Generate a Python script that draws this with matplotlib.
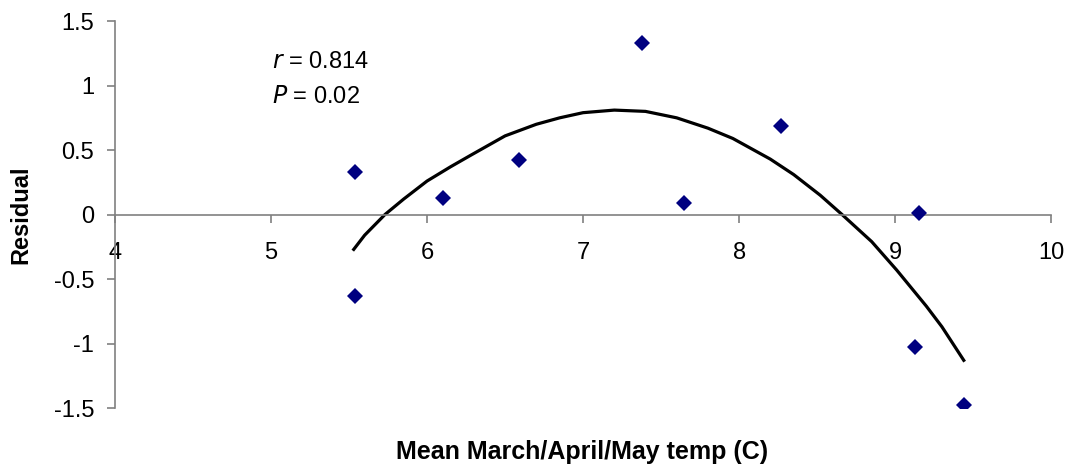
import matplotlib
matplotlib.use("Agg")
import matplotlib.pyplot as plt

plt.rcParams['font.family'] = ['Liberation Sans', 'DejaVu Sans']

# residuals vs mean spring temperature
temp = [5.54, 5.54, 6.10, 6.59, 7.38, 7.65, 8.27, 9.15, 9.13, 9.44]
resid = [0.33, -0.63, 0.13, 0.42, 1.33, 0.09, 0.69, 0.01, -1.03, -1.48]

# trend line
trend_x = [5.53, 5.6, 5.73, 5.85, 6.0, 6.15, 6.28, 6.5, 6.7, 6.85, 7.0, 7.2,
           7.4, 7.6, 7.8, 7.96, 8.2, 8.35, 8.52, 8.66, 8.85, 9.01, 9.2, 9.3, 9.44]
trend_y = [-0.27, -0.16, 0.0, 0.12, 0.26, 0.37, 0.46, 0.61, 0.70, 0.75, 0.79, 0.81,
           0.80, 0.75, 0.67, 0.59, 0.43, 0.31, 0.15, 0.0, -0.21, -0.43, -0.71, -0.87, -1.13]

xticks = [4, 5, 6, 7, 8, 9, 10]
yticks = [-1.5, -1, -0.5, 0, 0.5, 1, 1.5]
ytick_labels = ['-1.5', '-1', '-0.5', '0', '0.5', '1', '1.5']

fig = plt.figure(figsize=(10.68, 4.69), dpi=100)
ax = fig.add_axes([0.1077, 0.130, 0.8765, 0.825])

ax.plot(trend_x, trend_y, color='black', lw=2.3, zorder=2)
ax.plot(temp, resid, ls='none', marker='D', ms=8, color='#000080',
        markeredgewidth=0, zorder=3)

ax.set_xlim(4, 10)
ax.set_ylim(-1.5, 1.5)
ax.set_xticks(xticks)
ax.set_xticklabels([str(t) for t in xticks])
ax.set_yticks(yticks)
ax.set_yticklabels(ytick_labels)

for s in ['top', 'right']:
    ax.spines[s].set_visible(False)
ax.spines['bottom'].set_position(('data', 0))
for s in ['left', 'bottom']:
    ax.spines[s].set_color('#808080')
    ax.spines[s].set_linewidth(1.2)

ax.tick_params(axis='both', colors='#808080', labelcolor='black',
               labelsize=17, width=1.2, length=6, direction='out')
ax.tick_params(axis='x', pad=14)
ax.tick_params(axis='y', pad=9)

# axis titles
fig.text(0.0195, 0.543, 'Residual', rotation=90, ha='center', va='center',
         fontsize=17, fontweight='bold')
fig.text(0.545, 0.036, 'Mean March/April/May temp (C)', ha='center',
         va='center', fontsize=18, fontweight='bold')

ax.text(0.255, 0.867, r'$\it{r}$ = 0.814', transform=fig.transFigure,
        fontsize=17, va='center')
ax.text(0.255, 0.793, r'$\it{P}$ = 0.02', transform=fig.transFigure,
        fontsize=17, va='center')

fig.savefig('out.png', dpi=100)
